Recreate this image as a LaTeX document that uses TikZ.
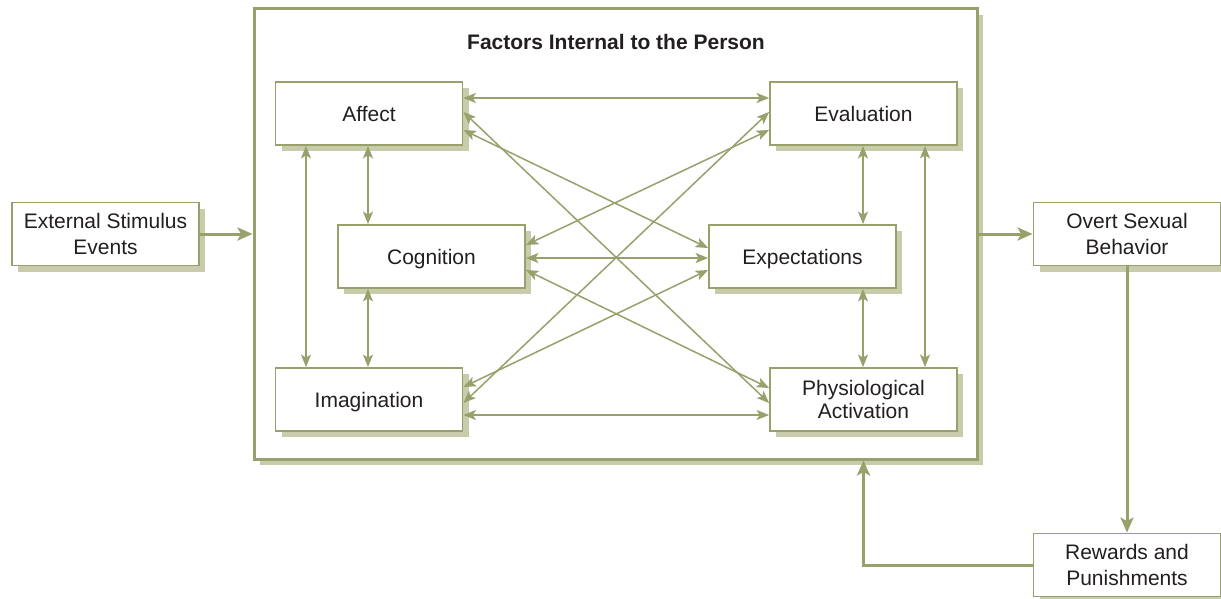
\documentclass[tikz,border=0pt]{standalone}
\usepackage{fontspec}
\setmainfont{Liberation Sans}
\usetikzlibrary{arrows.meta,shadows}
\definecolor{lineC}{RGB}{152,160,108}
\definecolor{shadowC}{RGB}{201,204,171}
\definecolor{txtC}{RGB}{35,31,32}
\begin{document}
\begin{tikzpicture}[x=1pt,y=-1pt,
  box/.style={draw=lineC, line width=1.8pt, fill=white, minimum width=187pt, minimum height=63pt,
    inner sep=0pt, align=center, text=txtC, font=\fontsize{21}{26}\selectfont,
    general shadow={fill=shadowC, shadow xshift=6pt, shadow yshift=-6pt}},
  single/.style={text height=15.2pt, text depth=0pt},
  frame/.style={draw=lineC, line width=3pt, fill=white, minimum width=723pt, minimum height=450pt,
    inner sep=0pt, general shadow={fill=shadowC, shadow xshift=6pt, shadow yshift=-6pt}},
  thinarr/.style={draw=lineC, line width=1.5pt,
    arrows={Stealth[length=12.5pt,width=10pt,inset=3pt]-Stealth[length=12.5pt,width=10pt,inset=3pt]}},
  thickarr/.style={draw=lineC, line width=3pt,
    arrows={-Stealth[length=15pt,width=13pt,inset=3.5pt]}}
]
\useasboundingbox (0,0) rectangle (1221,599);

\node[frame] (frame) at (615.5,234) {};
\node[font=\bfseries\fontsize{21}{26}\selectfont, text=txtC] (title) at (616,42) {Factors Internal to the Person};

\node[box,single] (affect) at (369,113.5) {Affect};
\node[box,single] (eval) at (863.5,113.5) {Evaluation};
\node[box,single] (cog) at (431.5,256.5) {Cognition};
\node[box,single] (expect) at (802.5,256.5) {Expectations};
\node[box,single] (imag) at (369,399.5) {Imagination};
\node[box] (phys) at (863.5,399.5) {Physiological\\[-3pt]Activation};

\node[box] (ext) at (105.5,234) {External Stimulus\\Events};
\node[box] (overt) at (1127,234) {Overt Sexual\\Behavior};
\node[box] (rew) at (1127,565) {Rewards and\\Punishments};

% thin arrows
\draw[thinarr] (affect.east |- 0,98) -- (eval.west |- 0,98);
\draw[thinarr] (affect.east |- 0,112) -- (phys.west |- 0,403);
\draw[thinarr] (affect.east |- 0,130) -- (expect.west |- 0,248);
\draw[thinarr] (eval.west |- 0,112) -- (imag.east |- 0,403);
\draw[thinarr] (eval.west |- 0,130) -- (cog.east |- 0,245);
\draw[thinarr] (cog.east |- 0,258) -- (expect.west |- 0,258);
\draw[thinarr] (cog.east |- 0,270) -- (phys.west |- 0,388);
\draw[thinarr] (imag.east |- 0,387) -- (expect.west |- 0,270);
\draw[thinarr] (imag.east |- 0,415) -- (phys.west |- 0,415);

\draw[thinarr] (affect.south -| 306,0) -- (imag.north -| 306,0);
\draw[thinarr] (affect.south -| 368,0) -- (cog.north -| 368,0);
\draw[thinarr] (cog.south -| 368,0) -- (imag.north -| 368,0);
\draw[thinarr] (eval.south -| 863,0) -- (expect.north -| 863,0);
\draw[thinarr] (expect.south -| 863,0) -- (phys.north -| 863,0);
\draw[thinarr] (eval.south -| 925,0) -- (phys.north -| 925,0);

% thick arrows
\draw[thickarr] (ext.east) -- (frame.west);
\draw[thickarr] (frame.east) -- (overt.west);
\draw[thickarr] (overt.south) -- (rew.north);
\draw[thickarr] (rew.west) -| (phys.center |- frame.south);
\end{tikzpicture}
\end{document}
